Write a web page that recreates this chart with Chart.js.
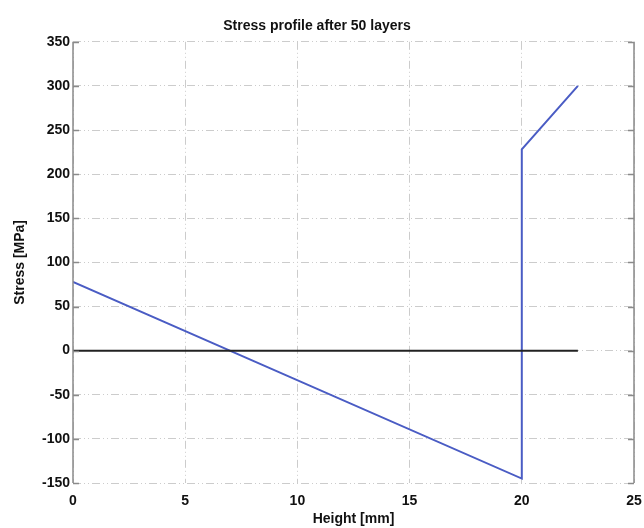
<!DOCTYPE html>
<html>
<head>
<meta charset="utf-8">
<script src="https://cdn.jsdelivr.net/npm/chart.js@4"></script>
<style>
  html, body { margin: 0; padding: 0; background: #fff; }
  #wrap { width: 644px; height: 528px; }
</style>
</head>
<body>
<div id="wrap"><canvas id="stressChart"></canvas></div>
<script>
// stress profile along the height of the part
const heightMm = [0, 20, 20, 22.5];
const stressMPa = [78, -145, 228, 300];
// zero reference line
const zeroX = [0, 22.5];
const zeroY = [0, 0];
const xTicks = [0, 5, 10, 15, 20, 25];
const yTicks = [-150, -100, -50, 0, 50, 100, 150, 200, 250, 300, 350];

const toPts = (xs, ys) => xs.map((x, i) => ({ x, y: ys[i] }));
const font = { family: '"Liberation Sans", Arial, sans-serif', size: 14, weight: 'bold' };

// left/right axis lines with inward ticks, matlab style
const boxAxes = {
    id: 'boxAxes',
    afterDatasetsDraw(chart) {
        const { ctx, chartArea: a, scales: { y } } = chart;
        ctx.save();
        ctx.strokeStyle = '#8a8a8a';
        ctx.lineWidth = 1.5;
        ctx.beginPath();
        ctx.moveTo(a.left, a.top); ctx.lineTo(a.left, a.bottom);
        ctx.moveTo(a.right, a.top); ctx.lineTo(a.right, a.bottom);
        yTicks.forEach(v => {
            const py = Math.round(y.getPixelForValue(v)) + 0.5;
            ctx.moveTo(a.left, py); ctx.lineTo(a.left + 6, py);
            ctx.moveTo(a.right, py); ctx.lineTo(a.right - 6, py);
        });
        ctx.stroke();
        ctx.restore();
    }
};

new Chart(document.getElementById('stressChart'), {
    type: 'scatter',
    data: {
        datasets: [
            {
                data: toPts(zeroX, zeroY),
                showLine: true,
                borderColor: '#222',
                borderWidth: 2,
                pointRadius: 0
            },
            {
                data: toPts(heightMm, stressMPa),
                showLine: true,
                borderColor: '#4a5cc4',
                borderWidth: 2,
                pointRadius: 0
            }
        ]
    },
    options: {
        responsive: true,
        maintainAspectRatio: false,
        animation: false,
        layout: { padding: { left: 0, right: 10, top: 0, bottom: 0 } },
        plugins: {
            legend: { display: false },
            tooltip: { enabled: false },
            title: {
                display: true,
                text: 'Stress profile after 50 layers',
                color: '#111',
                font: font,
                padding: { top: 18, bottom: 7 }
            }
        },
        scales: {
            x: {
                type: 'linear',
                min: 0, max: 25,
                afterBuildTicks: s => { s.ticks = xTicks.map(v => ({ value: v })); },
                afterFit: s => { s.height = 45; s.paddingLeft = 0; s.paddingRight = 0; },
                ticks: { color: '#111', font: font, padding: 10, maxRotation: 0 },
                grid: { color: '#cccccc', lineWidth: 1, tickLength: 0, drawTicks: false },
                border: { display: false, dash: [8, 3, 1, 3, 1, 3] },
                title: {
                    display: true, text: 'Height [mm]', color: '#111', font: font,
                    padding: { top: 0, bottom: 0 }
                }
            },
            y: {
                type: 'linear',
                min: -150, max: 350,
                afterBuildTicks: s => { s.ticks = yTicks.map(v => ({ value: v })); },
                afterFit: s => { s.width = 73; s.paddingTop = 0; s.paddingBottom = 0; },
                ticks: { color: '#111', font: font, padding: 3 },
                grid: { color: '#cccccc', lineWidth: 1, drawTicks: false },
                border: { display: false, dash: [8, 3, 1, 3, 1, 3] },
                title: {
                    display: true, text: 'Stress [MPa]', color: '#111', font: font,
                    padding: { top: 12, bottom: 0 }
                }
            }
        }
    },
    plugins: [boxAxes]
});
</script>
</body>
</html>
